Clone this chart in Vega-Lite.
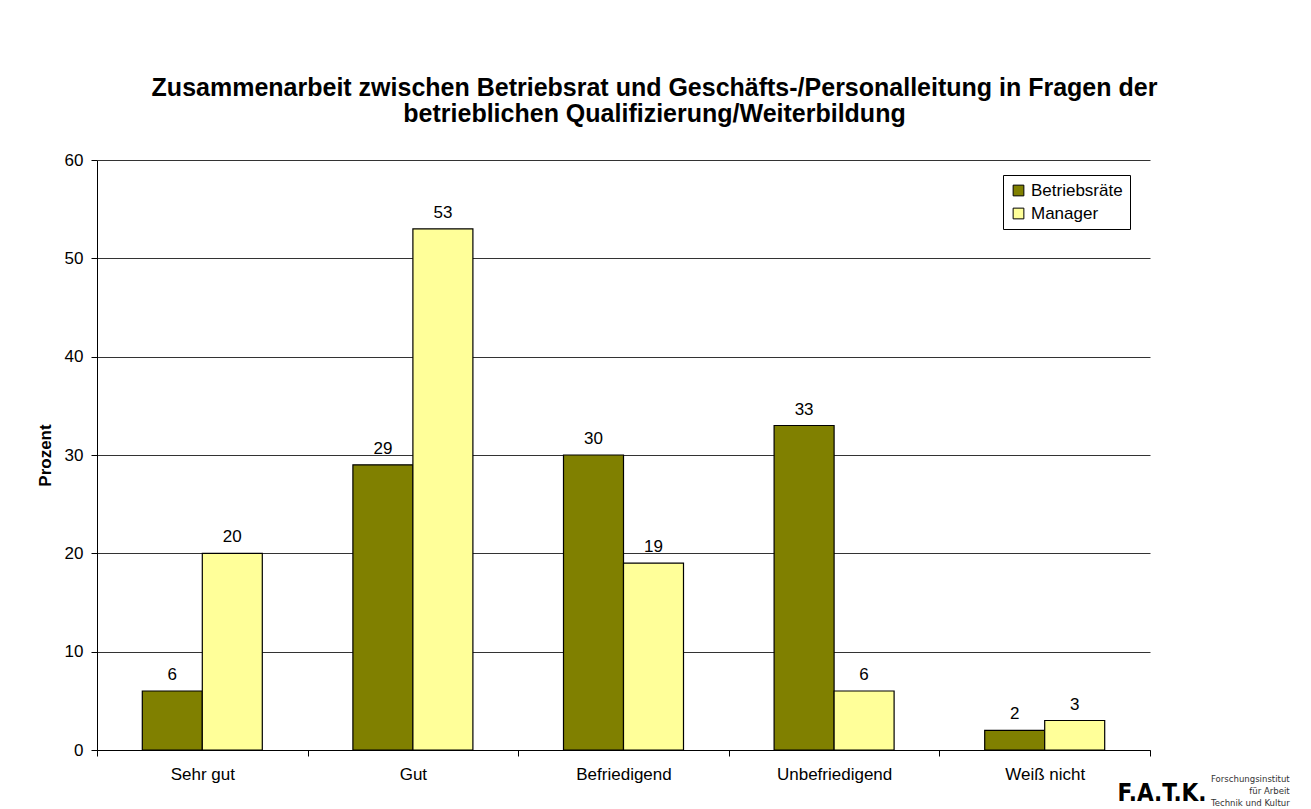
{
  "$schema": "https://vega.github.io/schema/vega-lite/v6.json",
  "width": 1053,
  "height": 590,
  "autosize": {"type": "none"},
  "padding": {"left": 97, "top": 160, "right": 161, "bottom": 59},
  "background": "white",
  "config": {
    "font": "Liberation Sans",
    "view": {"stroke": null}
  },
  "title": {
    "text": ["Zusammenarbeit zwischen Betriebsrat und Geschäfts-/Personalleitung in Fragen der", "betrieblichen Qualifizierung/Weiterbildung"],
    "font": "Liberation Sans",
    "fontSize": 25,
    "fontWeight": "bold",
    "color": "black",
    "anchor": "middle",
    "dx": 31,
    "offset": 24,
    "lineHeight": 26
  },
  "data": {
    "values": [
      {"kategorie": "Sehr gut", "gruppe": "Betriebsräte", "prozent": 6},
      {"kategorie": "Sehr gut", "gruppe": "Manager", "prozent": 20},
      {"kategorie": "Gut", "gruppe": "Betriebsräte", "prozent": 29},
      {"kategorie": "Gut", "gruppe": "Manager", "prozent": 53},
      {"kategorie": "Befriedigend", "gruppe": "Betriebsräte", "prozent": 30},
      {"kategorie": "Befriedigend", "gruppe": "Manager", "prozent": 19},
      {"kategorie": "Unbefriedigend", "gruppe": "Betriebsräte", "prozent": 33},
      {"kategorie": "Unbefriedigend", "gruppe": "Manager", "prozent": 6},
      {"kategorie": "Weiß nicht", "gruppe": "Betriebsräte", "prozent": 2},
      {"kategorie": "Weiß nicht", "gruppe": "Manager", "prozent": 3}
    ]
  },
  "encoding": {
    "x": {
      "field": "kategorie",
      "type": "nominal",
      "sort": ["Sehr gut", "Gut", "Befriedigend", "Unbefriedigend", "Weiß nicht"],
      "scale": {"paddingInner": 0, "paddingOuter": 0},
      "axis": {
        "title": "F.A.T.K.",
        "titleFont": "DejaVu Sans Condensed",
        "titleFontSize": 24,
        "titleFontWeight": "bold",
        "titleColor": "black",
        "titleX": 1020,
        "titleY": 50,
        "titleAlign": "left",
        "titleBaseline": "alphabetic",
        "labelAngle": 0,
        "labelFont": "Liberation Sans",
        "labelFontSize": 17,
        "labelColor": "black",
        "labelPadding": 10,
        "tickBand": "extent",
        "tickSize": 6,
        "tickColor": "black",
        "domainColor": "black",
        "grid": false
      }
    },
    "y": {
      "field": "prozent",
      "type": "quantitative",
      "scale": {"domain": [0, 60]},
      "axis": {
        "title": "Prozent",
        "titleFontSize": 17,
        "titleFontWeight": "bold",
        "titleColor": "black",
        "titlePadding": 10,
        "values": [0, 10, 20, 30, 40, 50, 60],
        "labelFontSize": 17,
        "labelColor": "black",
        "labelPadding": 8,
        "tickSize": 6,
        "tickColor": "black",
        "domainColor": "black",
        "gridColor": "#000000",
        "gridOpacity": 0.8
      }
    }
  },
  "layer": [
    {
      "mark": {"type": "bar", "stroke": "black", "strokeWidth": 1.2},
      "encoding": {
        "xOffset": {
          "field": "gruppe",
          "type": "nominal",
          "scale": {"paddingInner": 0, "paddingOuter": 0.755}
        },
        "color": {
          "field": "gruppe",
          "type": "nominal",
          "scale": {"domain": ["Betriebsräte", "Manager"], "range": ["#808000", "#FFFF99"]},
          "legend": {
            "title": null,
            "orient": "none",
            "legendX": 906,
            "legendY": 15,
            "symbolType": "square",
            "symbolSize": 115,
            "symbolStrokeColor": "black",
            "symbolStrokeWidth": 1,
            "labelFontSize": 17,
            "labelColor": "black",
            "labelOffset": 4,
            "rowPadding": 5,
            "strokeColor": "black",
            "padding": 7,
            "fillColor": "white"
          }
        }
      }
    },
    {
      "mark": {"type": "text", "dy": -16, "fontSize": 17, "color": "black"},
      "encoding": {
        "xOffset": {
          "field": "gruppe",
          "type": "nominal",
          "scale": {"paddingInner": 0, "paddingOuter": 0.755}
        },
        "text": {"field": "prozent", "type": "quantitative"}
      }
    },
    {
      "data": {"values": [{"kategorie": "Weiß nicht", "prozent": 0}]},
      "mark": {
        "type": "text",
        "text": ["Forschungsinstitut", "für Arbeit", "Technik und Kultur"],
        "align": "right",
        "baseline": "top",
        "dx": 245,
        "dy": 24,
        "fontSize": 9.5,
        "lineHeight": 12,
        "font": "DejaVu Sans Condensed",
        "color": "#333333"
      },
      "encoding": {}
    }
  ]
}
